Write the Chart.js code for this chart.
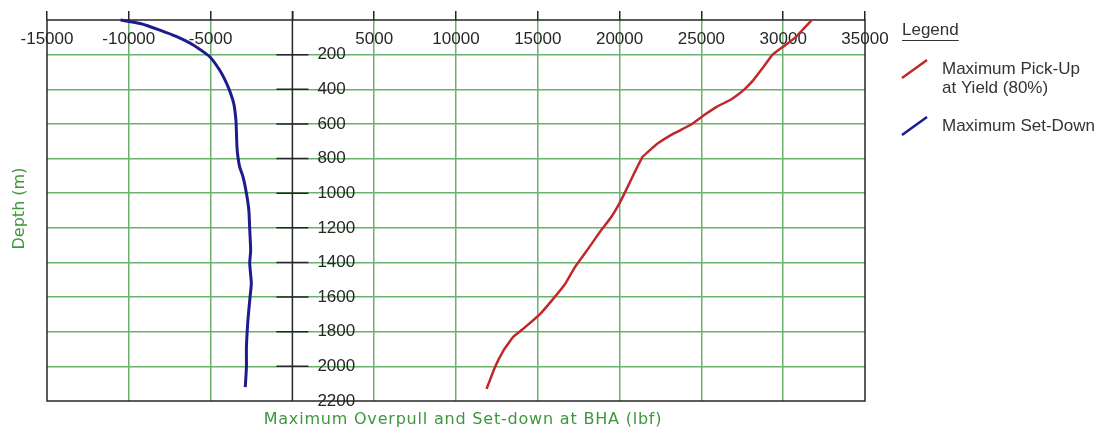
<!DOCTYPE html>
<html>
<head>
<meta charset="utf-8">
<script src="https://cdn.jsdelivr.net/npm/chart.js@4"></script>
<style>
  html, body { margin: 0; padding: 0; background: #fff; }
</style>
</head>
<body>
<canvas id="overpullChart" width="1106" height="436"></canvas>
<script>
// series (depth in m, force in lbf)
const seriesLabels = ['Maximum Pick-Up at Yield (80%)', 'Maximum Set-Down'];
const legendLines = [['Maximum Pick-Up', 'at Yield (80%)'], ['Maximum Set-Down']];

const pickUpDepth = [0, 50, 100, 150, 200, 270, 350, 405, 440, 465, 500, 550, 605, 655, 715, 760, 790, 885, 985, 1060, 1140, 1215, 1310, 1430, 1520, 1600, 1700, 1775, 1830, 1910, 2005, 2130];
const pickUpForce = [31750, 31250, 30750, 30050, 29350, 28800, 28150, 27580, 27100, 26700, 25960, 25150, 24350, 23320, 22300, 21750, 21400, 20890, 20380, 19980, 19470, 18860, 18160, 17250, 16700, 16030, 15120, 14210, 13500, 12890, 12380, 11870];

const setDownDepth = [0, 20, 58, 96, 144, 212, 290, 350, 405, 460, 500, 580, 650, 730, 790, 850, 905, 1000, 1100, 1205, 1330, 1405, 1520, 1620, 1735, 1890, 2005, 2120];
const setDownForce = [-10500, -9300, -8100, -7070, -6060, -5050, -4440, -4100, -3850, -3650, -3550, -3450, -3420, -3390, -3330, -3220, -3020, -2810, -2660, -2610, -2550, -2610, -2510, -2610, -2720, -2810, -2810, -2880];

const forceTicks = [-15000, -10000, -5000, 0, 5000, 10000, 15000, 20000, 25000, 30000, 35000];
const depthTicks = [0, 200, 400, 600, 800, 1000, 1200, 1400, 1600, 1800, 2000, 2200];

const gridGreen = 'rgb(106, 178, 106)';
const axisColor = '#262626';
const titleGreen = '#3d973d';
const labelFont = '17px "Liberation Sans", Arial, sans-serif';

const toPoints = (depths, forces) => depths.map((d, i) => ({ x: forces[i], y: d }));

// axis at zero force, tick labels inside the box, titles and legend
const overlay = {
    id: 'overlay',
    beforeDatasetsDraw(chart) {
        const { ctx, chartArea: a, scales: { x, y } } = chart;
        ctx.save();
        ctx.strokeStyle = axisColor;
        ctx.lineWidth = 1.5;
        ctx.strokeRect(a.left, a.top, a.right - a.left, a.bottom - a.top);

        const x0 = x.getPixelForValue(0);
        ctx.beginPath();
        ctx.moveTo(x0, a.top - 9);
        ctx.lineTo(x0, a.bottom);
        ctx.stroke();

        ctx.font = labelFont;
        ctx.fillStyle = '#262626';
        ctx.textBaseline = 'middle';
        ctx.textAlign = 'left';
        depthTicks.forEach(d => {
            if (d === 0) return;
            const py = y.getPixelForValue(d);
            if (d < 2200) {
                ctx.beginPath();
                ctx.moveTo(x0 - 16, py);
                ctx.lineTo(x0 + 16, py);
                ctx.stroke();
            }
            ctx.fillText(String(d), x0 + 25, py);
        });

        ctx.textAlign = 'center';
        forceTicks.forEach(f => {
            if (f === 0) return;
            ctx.fillText(String(f), x.getPixelForValue(f), a.top + 19);
        });
        ctx.restore();
    },
    afterDatasetsDraw(chart) {
        const { ctx, chartArea: a } = chart;
        ctx.save();
        // axis titles
        ctx.fillStyle = titleGreen;
        ctx.font = '16px "DejaVu Sans", sans-serif';
        ctx.textAlign = 'center';
        ctx.textBaseline = 'middle';
        ctx.letterSpacing = '0.8px';
        ctx.fillText('Maximum Overpull and Set-down at BHA (lbf)', (a.left + a.right) / 2 + 7, 420);
        ctx.letterSpacing = '0px';
        ctx.translate(20, (a.top + a.bottom) / 2 - 2);
        ctx.rotate(-Math.PI / 2);
        ctx.fillText('Depth (m)', 0, 0);
        ctx.restore();

        // legend
        ctx.save();
        const lx = a.right + 37;
        ctx.font = labelFont;
        ctx.fillStyle = '#333';
        ctx.textAlign = 'left';
        ctx.textBaseline = 'alphabetic';
        ctx.fillText('Legend', lx, 35);
        const w = ctx.measureText('Legend').width;
        ctx.strokeStyle = '#333';
        ctx.lineWidth = 1;
        ctx.beginPath();
        ctx.moveTo(lx, 40.5);
        ctx.lineTo(lx + w, 40.5);
        ctx.stroke();

        const rowTop = [60, 117];
        chart.data.datasets.forEach((ds, i) => {
            const t = rowTop[i];
            ctx.strokeStyle = ds.borderColor;
            ctx.lineWidth = 2.5;
            ctx.beginPath();
            ctx.moveTo(lx, t + 18);
            ctx.lineTo(lx + 25, t);
            ctx.stroke();
            legendLines[i].forEach((line, j) => {
                ctx.fillText(line, lx + 40, t + 14 + j * 19);
            });
        });
        ctx.restore();
    }
};

new Chart(document.getElementById('overpullChart'), {
    type: 'scatter',
    data: {
        datasets: [
            {
                label: seriesLabels[0],
                data: toPoints(pickUpDepth, pickUpForce),
                showLine: true,
                borderColor: '#c0282c',
                borderWidth: 2.5,
                pointRadius: 0,
                tension: 0.1,
                clip: false
            },
            {
                label: seriesLabels[1],
                data: toPoints(setDownDepth, setDownForce),
                showLine: true,
                borderColor: '#1c1c8c',
                borderWidth: 3,
                pointRadius: 0,
                tension: 0.15,
                clip: false
            }
        ]
    },
    options: {
        responsive: false,
        animation: false,
        devicePixelRatio: 1,
        layout: { padding: { left: 47, top: 11, right: 241, bottom: 35 } },
        plugins: {
            legend: { display: false },
            tooltip: { enabled: false }
        },
        scales: {
            x: {
                type: 'linear',
                position: 'top',
                min: -15000,
                max: 35000,
                afterBuildTicks: s => { s.ticks = forceTicks.map(v => ({ value: v })); },
                ticks: { display: false },
                border: { display: false },
                grid: {
                    color: c => [-15000, 0, 35000].includes(c.tick.value) ? 'rgba(0,0,0,0)' : gridGreen,
                    lineWidth: 1.5,
                    drawTicks: true,
                    tickLength: 9,
                    tickColor: axisColor,
                    tickWidth: 1.5
                }
            },
            y: {
                type: 'linear',
                reverse: true,
                min: 0,
                max: 2200,
                afterBuildTicks: s => { s.ticks = depthTicks.map(v => ({ value: v })); },
                ticks: { display: false },
                border: { display: false },
                grid: {
                    color: c => [0, 2200].includes(c.tick.value) ? 'rgba(0,0,0,0)' : gridGreen,
                    lineWidth: 1.5,
                    drawTicks: false
                }
            }
        }
    },
    plugins: [overlay]
});
</script>
</body>
</html>
